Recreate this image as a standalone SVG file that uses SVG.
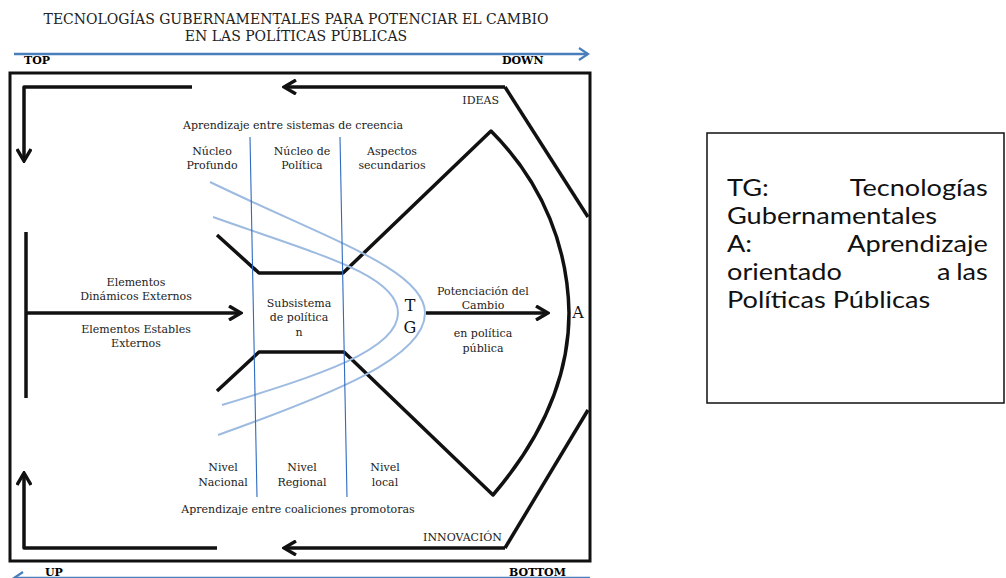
<svg xmlns="http://www.w3.org/2000/svg" width="1006" height="578" viewBox="0 0 1006 578">
<style>
.lbl{font-family:"DejaVu Serif","Liberation Serif",serif;font-size:11px;fill:#222;text-anchor:middle}
.ttl{font-family:"DejaVu Serif","Liberation Serif",serif;font-size:14px;fill:#222;text-anchor:middle}
.big{font-family:"DejaVu Serif","Liberation Serif",serif;font-size:16px;fill:#111;text-anchor:middle}
.bold{font-family:"DejaVu Serif","Liberation Serif",serif;font-size:11px;font-weight:bold;fill:#000}
.leg{font-family:Lato,"Open Sans",sans-serif;font-size:23px;fill:#111}
.blk{fill:none;stroke:#111;stroke-width:3.5;stroke-linejoin:round}
.blue{fill:none;stroke:#4a7ebb;stroke-width:2.5}
.vline{fill:none;stroke:#2f6bc0;stroke-width:1.1}
.curve{fill:none;stroke:#9dbbe0;stroke-width:2}
</style>
<defs>
<marker id="ah" viewBox="0 0 16 16" refX="14" refY="8" markerWidth="16" markerHeight="16" markerUnits="userSpaceOnUse" orient="auto">
<path d="M2,1 L14,8 L2,15" fill="none" stroke="#111" stroke-width="3.4" stroke-linejoin="miter"/>
</marker>
<marker id="bh" viewBox="0 0 14 14" refX="12" refY="7" markerWidth="14" markerHeight="14" markerUnits="userSpaceOnUse" orient="auto">
<path d="M3,1 L12,7 L3,13" fill="none" stroke="#4a7ebb" stroke-width="2.2"/>
</marker>
</defs>
<rect width="1006" height="578" fill="#fff"/>

<g id="title">
<text class="ttl" x="296" y="24">TECNOLOGÍAS GUBERNAMENTALES PARA POTENCIAR EL CAMBIO</text>
<text class="ttl" x="296" y="41">EN LAS POLÍTICAS PÚBLICAS</text>
</g>

<g id="axis-top">
<line class="blue" x1="14" y1="54" x2="588" y2="54" marker-end="url(#bh)"/>
<text class="bold" x="24" y="64">TOP</text>
<text class="bold" x="502" y="64">DOWN</text>
</g>
<g id="axis-bottom">
<line class="blue" x1="590" y1="578" x2="14" y2="578" marker-end="url(#bh)"/>
<text class="bold" x="45" y="576">UP</text>
<text class="bold" x="509" y="576">BOTTOM</text>
</g>

<g id="frame">
<rect x="10" y="73" width="580" height="488" fill="none" stroke="#111" stroke-width="3"/>
</g>

<g id="connectors">
<path class="blk" d="M192,87 L24,87 L24,161" marker-end="url(#ah)"/>
<path class="blk" d="M505,87 L284,87" marker-end="url(#ah)"/>
<path class="blk" d="M505,87 L588,217"/>
<path class="blk" d="M217,548 L24,548 L24,473" marker-end="url(#ah)"/>
<path class="blk" d="M505,548 L284,548" marker-end="url(#ah)"/>
<path class="blk" d="M505,548 L588,410"/>
<path class="blk" d="M26,232 L26,398"/>
<path class="blk" d="M26,313 L241,313" marker-end="url(#ah)"/>
<path class="blk" d="M426,313 L548,313" marker-end="url(#ah)"/>
</g>

<g id="subsystem-shape">
<path class="blk" d="M217,235 L259,273 L343,273 L491,131 C545,185 568,250 569,313 C569,380 540,440 493,495 L344,352 L259,352 L217,391"/>
</g>

<g id="tg-curves">
<path class="curve" d="M210,182 C330,240 425,270 425,313 C425,358 330,395 218,435"/>
<path class="curve" d="M213,217 C320,255 398,275 398,313 C398,350 320,375 222,405"/>
</g>

<g id="divisions">
<line class="vline" x1="250" y1="137" x2="257" y2="497"/>
<line class="vline" x1="340" y1="137" x2="347" y2="497"/>
</g>

<g id="labels">
<text class="lbl" x="293" y="129">Aprendizaje entre sistemas de creencia</text>
<text class="lbl" x="212" y="155">Núcleo</text>
<text class="lbl" x="212" y="169">Profundo</text>
<text class="lbl" x="302" y="155">Núcleo de</text>
<text class="lbl" x="302" y="169">Política</text>
<text class="lbl" x="392" y="155">Aspectos</text>
<text class="lbl" x="392" y="169">secundarios</text>
<text class="lbl" x="136" y="286">Elementos</text>
<text class="lbl" x="136" y="300">Dinámicos Externos</text>
<text class="lbl" x="136" y="333">Elementos Estables</text>
<text class="lbl" x="136" y="347">Externos</text>
<text class="lbl" x="299" y="307">Subsistema</text>
<text class="lbl" x="299" y="321">de política</text>
<text class="lbl" x="299" y="336">n</text>
<text class="big" x="410" y="311">T</text>
<text class="big" x="410" y="333">G</text>
<text class="lbl" x="483" y="295">Potenciación del</text>
<text class="lbl" x="483" y="309">Cambio</text>
<text class="lbl" x="483" y="337">en política</text>
<text class="lbl" x="483" y="352">pública</text>
<text class="big" x="578" y="318">A</text>
<text class="lbl" x="499" y="104" style="text-anchor:end">IDEAS</text>
<text class="lbl" x="502" y="541" style="text-anchor:end">INNOVACIÓN</text>
<text class="lbl" x="223" y="471">Nivel</text>
<text class="lbl" x="223" y="486">Nacional</text>
<text class="lbl" x="302" y="471">Nivel</text>
<text class="lbl" x="302" y="486">Regional</text>
<text class="lbl" x="385" y="471">Nivel</text>
<text class="lbl" x="385" y="486">local</text>
<text class="lbl" x="298" y="513">Aprendizaje entre coaliciones promotoras</text>
</g>

<g id="legend">
<rect x="707" y="133" width="297" height="270" fill="#fff" stroke="#111" stroke-width="1.5"/>
<g transform="translate(727,0) scale(1.18,1) translate(-727,0)">
<text class="leg" x="727" y="196">TG:</text>
<text class="leg" x="948" y="196" text-anchor="end">Tecnologías</text>
<text class="leg" x="727" y="224">Gubernamentales</text>
<text class="leg" x="727" y="252">A:</text>
<text class="leg" x="948" y="252" text-anchor="end">Aprendizaje</text>
<text class="leg" x="727" y="280">orientado</text>
<text class="leg" x="905" y="280">a</text>
<text class="leg" x="948" y="280" text-anchor="end">las</text>
<text class="leg" x="727" y="308">Políticas Públicas</text>
</g>
</g>
</svg>
